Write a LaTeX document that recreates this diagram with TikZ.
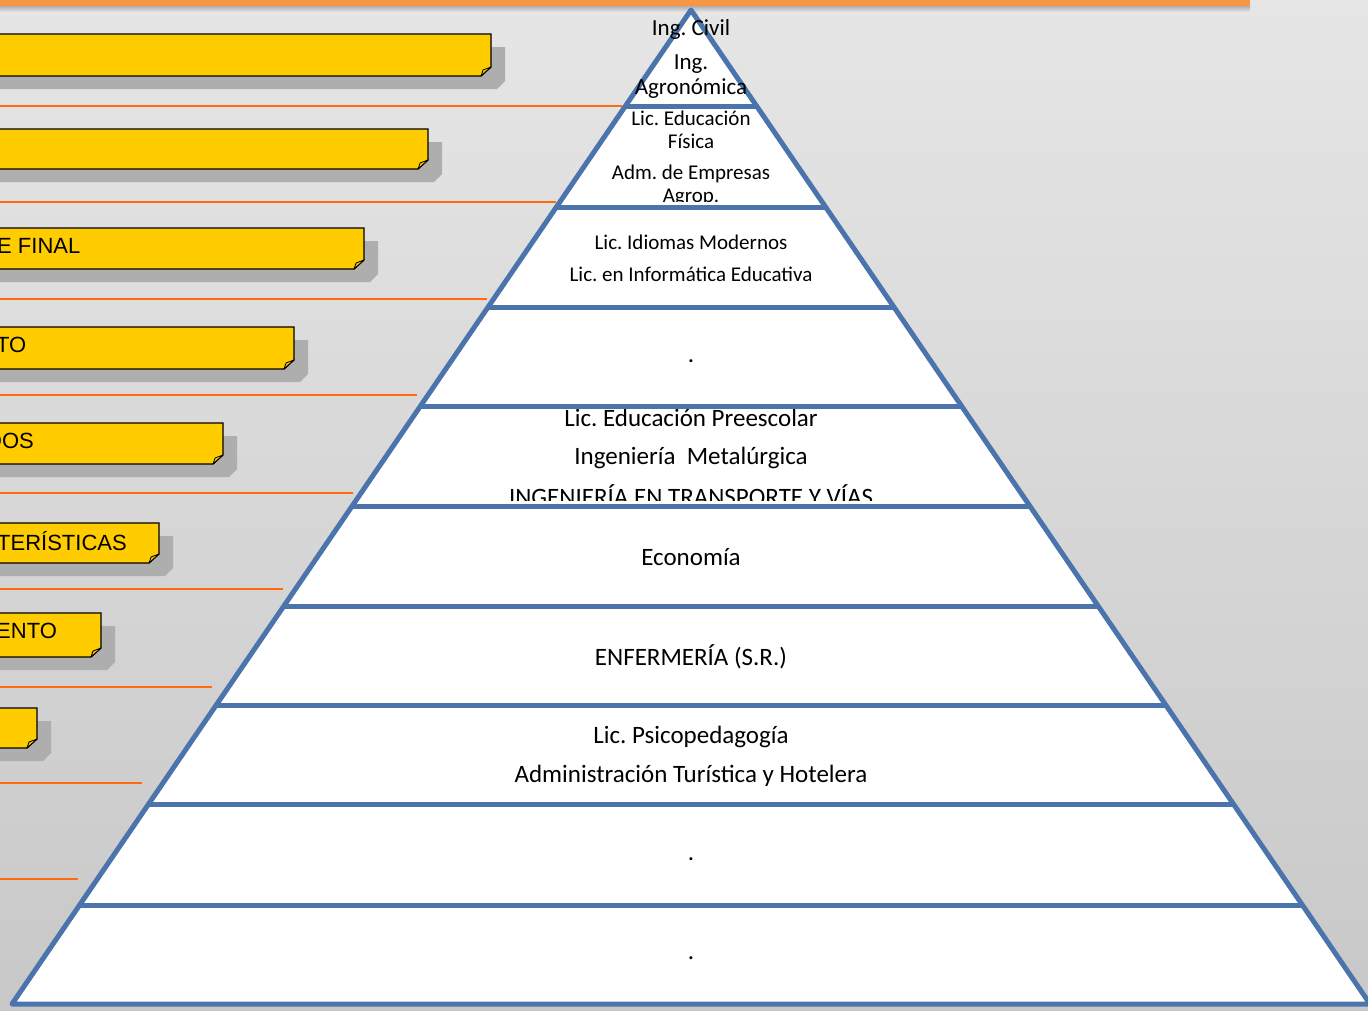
\documentclass[tikz,border=0pt]{standalone}
\usepackage{fontspec}
\setmainfont{Carlito}
\newfontfamily\arialf{Liberation Sans}
\frenchspacing
\definecolor{boxyellow}{HTML}{FFCC00}
\definecolor{foldyellow}{HTML}{F2C200}
\definecolor{shadowgray}{HTML}{AEAEAE}
\definecolor{orangeline}{HTML}{FF6A10}
\definecolor{orangebar}{HTML}{F79646}
\definecolor{pyrblue}{HTML}{4A74AB}
\definecolor{bgtop}{HTML}{E6E6E6}
\definecolor{bgbot}{HTML}{C8C8C8}
\newcommand\yellowbox[3]{%
  \fill[shadowgray] (-5,#1+13) -- (#3+14,#1+13) -- (#3+14,#2+13-8) -- (#3+14-8,#2+13) -- (-5,#2+13) -- cycle;
  \filldraw[fill=boxyellow, draw=black, line width=1.3] (-5,#1) -- (#3,#1) -- (#3,#2-9) -- (#3-10,#2) -- (-5,#2) -- cycle;
  \filldraw[fill=foldyellow, draw=black, line width=0.8, line join=round] (#3,#2-9) -- (#3-8,#2-6) -- (#3-10,#2) -- cycle;
}
\tikzset{
  orangelink/.style={draw=orangeline, line width=1.8},
  pyredge/.style={draw=pyrblue, line width=5, line join=round},
  levtext/.style={font=\fontsize{25}{28}\selectfont, inner sep=0pt, anchor=center},
  smalltext/.style={font=\fontsize{21}{24}\selectfont, inner sep=0pt, anchor=center},
  toptext/.style={font=\fontsize{23}{26}\selectfont, inner sep=0pt, anchor=center},
  boxtext/.style={font=\arialf\fontsize{22}{25}\selectfont, inner sep=0pt, anchor=west}
}
\begin{document}
\begin{tikzpicture}[x=1pt,y=-1pt]
\useasboundingbox (0,0) rectangle (1368,1010);
\begin{scope}
\clip (0,0) rectangle (1368,1010);
% background
\shade[top color=bgtop, bottom color=bgbot] (0,0) rectangle (1368,1010);
% top orange bar with shadow
\shade[top color=black!35, bottom color=bgtop] (0,5) rectangle (1250,12);
\fill[orangebar] (0,-1) rectangle (1250,6);
% orange lines
\draw[orangelink] (0,106) -- (622,106);
\draw[orangelink] (0,202) -- (556,202);
\draw[orangelink] (0,299) -- (487,299);
\draw[orangelink] (0,395) -- (417,395);
\draw[orangelink] (0,493) -- (353,493);
\draw[orangelink] (0,589) -- (283,589);
\draw[orangelink] (0,687) -- (212,687);
\draw[orangelink] (0,783) -- (142,783);
\draw[orangelink] (0,879) -- (78,879);
% yellow boxes
\yellowbox{34}{76}{491}
\yellowbox{129}{169}{428}
\yellowbox{228}{269}{364}
\yellowbox{327}{369}{294}
\yellowbox{423}{464}{223}
\yellowbox{523}{563}{159}
\yellowbox{613}{657}{101}
\yellowbox{708}{748}{37}
\node[boxtext] (b3) at (-3,246) {E FINAL};
\node[boxtext] (b4) at (-4,345) {TO};
\node[boxtext] (b5) at (-14,441) {DOS};
\node[boxtext] (b6) at (-3,541) {TERÍSTICAS};
\node[boxtext] (b7) at (-4,631) {ENTO};
% pyramid
\coordinate (apex) at (691,10);
\coordinate (bl) at (12,1004);
\coordinate (br) at (1370,1004);
\fill[white] (apex) -- (bl) -- (br) -- cycle;
% level texts
\begin{scope}
\clip (0,90) rectangle (1368,201);
\node[smalltext] (t4) at (691,118) {Lic. Educación};
\node[smalltext] (t5) at (691,141) {Física};
\node[smalltext] (t6) at (691,174) {Adm. de Empresas};
\node[smalltext] (t7) at (691,197.5) {Agrop.};
\end{scope}
\node[smalltext] (t8) at (691,242) {Lic. Idiomas Modernos};
\node[smalltext] (t9) at (691,274) {Lic. en Informática Educativa};
\node[levtext] (t10) at (691,361) {.};
\begin{scope}
\clip (0,390) rectangle (1368,500);
\node[levtext] (t11) at (691,418) {Lic. Educación Preescolar};
\node[levtext] (t12) at (691,458) {Ingeniería\ \ Metalúrgica};
\node[levtext] (t13) at (691,495.5) {INGENIERÍA EN TRANSPORTE Y VÍAS};
\end{scope}
\node[levtext] (t14) at (691,557) {Economía};
\node[levtext] (t15) at (691,657) {ENFERMERÍA (S.R.)};
\node[levtext] (t16) at (691,737) {Lic. Psicopedagogía};
\node[levtext] (t17) at (691,776) {Administración Turística y Hotelera};
\node[levtext] (t18) at (691,859) {.};
\node[levtext] (t19) at (691,958) {.};
% level lines
\foreach \yy in {106,207,307,406,506,606,705,804,905}{
  \draw[pyredge] ({691-0.683*(\yy-10)},\yy) -- ({691+0.683*(\yy-10)},\yy);
}
\draw[pyredge] (apex) -- (bl) -- (br) -- cycle;
\node[toptext] (t1) at (691,29) {Ing. Civil};
\node[toptext] (t2) at (691,64) {Ing.};
\node[toptext] (t3) at (691,89) {Agronómica};
\end{scope}
\end{tikzpicture}
\end{document}
